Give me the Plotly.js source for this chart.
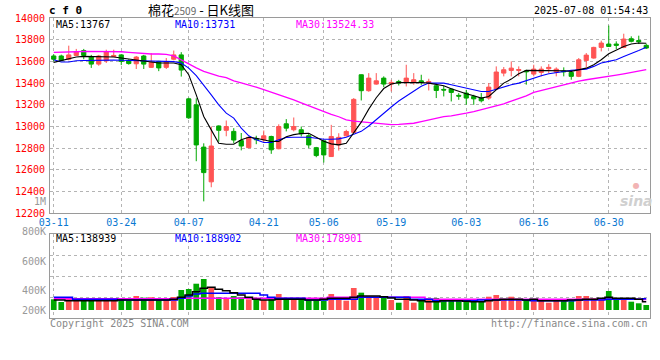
<!DOCTYPE html>
<html>
<head>
<meta charset="utf-8">
<script src="https://cdn.plot.ly/plotly-3.0.1.min.js"></script>
<style>html,body{margin:0;padding:0;background:#fff;}#chart{width:660px;height:360px;}</style>
</head>
<body>
<div id="chart"></div>
<script>
const dates = ["03-11","03-12","03-13","03-14","03-17","03-18","03-19","03-20","03-21","03-24",
"03-25","03-26","03-27","03-28","03-31","04-01","04-02","04-03","04-07","04-08",
"04-09","04-10","04-11","04-14","04-15","04-16","04-17","04-18","04-21","04-22",
"04-23","04-24","04-25","04-28","04-29","04-30","05-06","05-07","05-08","05-09",
"05-12","05-13","05-14","05-15","05-16","05-19","05-20","05-21","05-22","05-23",
"05-26","05-27","05-28","05-29","05-30","06-03","06-04","06-05","06-06","06-09",
"06-10","06-11","06-12","06-13","06-16","06-17","06-18","06-19","06-20","06-23",
"06-24","06-25","06-26","06-27","06-30","07-01","07-02","07-03","07-04","07-07"];

const tickDates = ["03-11","03-24","04-07","04-21","05-06","05-19","06-03","06-16","06-30"];

const openP = [13650,13650,13620,13655,13700,13645,13575,13605,13645,13660,
13605,13578,13650,13545,13600,13545,13620,13660,13255,13200,
12810,12490,13005,12965,12955,12870,12805,12890,12877,12908,
12795,13025,12970,12970,12915,12805,12868,12723,12830,12914,
12945,13477,13330,13391,13446,13391,13415,13406,13409,13421,
13400,13375,13342,13345,13287,13308,13277,13262,13262,13345,
13492,13517,13517,13512,13483,13498,13532,13502,13512,13498,
13462,13609,13631,13729,13760,13760,13729,13809,13792,13748];

const highP = [13665,13662,13745,13715,13715,13660,13660,13708,13708,13665,
13620,13650,13660,13675,13605,13631,13700,13685,13265,13260,
12845,13000,13010,13055,12985,12940,12905,12915,12963,12915,
13020,13068,13083,13000,12940,12812,12872,13015,12938,12970,
13262,13480,13492,13492,13462,13430,13430,13569,13492,13477,
13440,13385,13375,13352,13308,13338,13292,13308,13400,13554,
13548,13600,13554,13523,13569,13554,13575,13545,13545,13510,
13631,13677,13735,13791,13930,13785,13855,13831,13837,13763];

const lowP = [13600,13600,13610,13650,13620,13540,13560,13585,13640,13566,
13570,13530,13530,13540,13510,13530,13610,13460,13070,12680,
12310,12440,12860,12910,12845,12780,12800,12837,12850,12748,
12790,12955,12955,12908,12800,12717,12668,12720,12778,12908,
12940,13240,13320,13385,13363,13323,13378,13369,13385,13384,
13332,13262,13277,13231,13246,13200,13200,13222,13246,13340,
13462,13462,13462,13385,13462,13462,13492,13462,13462,13431,
13455,13545,13625,13692,13735,13714,13722,13775,13760,13714];

const closeP = [13620,13610,13660,13690,13655,13575,13650,13690,13655,13600,
13580,13640,13575,13590,13540,13595,13660,13520,13080,12830,
12575,12820,12965,13000,12875,12820,12900,12878,12914,12785,
13000,12985,13000,12932,12830,12732,12738,12908,12900,12954,
13250,13330,13446,13421,13391,13406,13400,13446,13431,13406,
13415,13332,13336,13314,13280,13262,13255,13237,13363,13502,
13523,13538,13525,13505,13529,13529,13545,13529,13505,13462,
13615,13658,13729,13769,13738,13748,13806,13785,13782,13723];

const ma5 = [13591,13606,13621,13640,13646,13646,13646,13646,13640,13631,
13621,13615,13603,13594,13585,13585,13585,13569,13477,13292,
13092,12969,12846,12837,12837,12877,12901,12892,12877,12862,
12862,12905,12925,12935,12938,12900,12865,12840,12831,12846,
12940,13040,13160,13265,13350,13392,13404,13406,13406,13406,
13400,13391,13375,13348,13323,13301,13283,13262,13277,13338,
13400,13437,13486,13517,13517,13517,13517,13517,13514,13508,
13523,13538,13569,13615,13671,13708,13738,13760,13769,13767];

const ma10 = [13615,13594,13594,13606,13608,13610,13610,13612,13612,13610,
13608,13606,13604,13602,13600,13600,13598,13585,13538,13468,
13385,13292,13200,13123,13077,12985,12914,12877,12852,12852,
12877,12898,12901,12901,12901,12892,12883,12883,12886,12901,
12930,12955,13005,13065,13125,13180,13235,13280,13330,13370,
13400,13400,13400,13385,13369,13354,13332,13323,13323,13345,
13363,13385,13400,13425,13446,13468,13486,13498,13511,13517,
13523,13529,13554,13585,13600,13615,13646,13677,13701,13731];

const ma30 = [13683,13683,13686,13689,13692,13692,13692,13692,13692,13689,
13683,13677,13671,13668,13668,13665,13650,13612,13572,13540,
13508,13485,13465,13450,13420,13402,13385,13362,13340,13318,
13295,13270,13245,13218,13190,13165,13135,13112,13090,13062,
13049,13043,13037,13031,13025,13018,13020,13022,13030,13045,
13062,13080,13092,13098,13108,13123,13138,13154,13172,13191,
13209,13234,13258,13283,13314,13332,13351,13369,13388,13406,
13418,13431,13440,13452,13462,13474,13486,13498,13511,13524.33];

const volume = [180000,135000,214000,157000,180000,197000,180000,180000,157000,197000,
157000,236000,207000,214000,169000,169000,219000,337000,354000,443000,
522000,382000,214000,185000,236000,214000,180000,180000,169000,180000,
270000,180000,180000,180000,169000,157000,162000,270000,169000,157000,
371000,292000,214000,214000,224000,169000,123000,236000,123000,180000,
197000,202000,169000,180000,169000,157000,140000,140000,224000,253000,
169000,224000,169000,180000,169000,169000,123000,157000,157000,180000,
236000,236000,197000,197000,320000,180000,180000,140000,113000,84000];

const volMa5 = [168000,168000,157000,157000,157000,157000,157000,157000,157000,168000,
168000,168000,168000,168000,168000,168000,180000,213000,253000,309000,
365000,382000,348000,326000,292000,253000,213000,180000,168000,168000,
180000,180000,180000,180000,168000,168000,180000,197000,197000,197000,
213000,236000,236000,236000,225000,202000,180000,180000,168000,157000,
140000,140000,157000,157000,157000,146000,140000,140000,157000,168000,
180000,180000,180000,168000,180000,157000,157000,157000,157000,168000,
168000,180000,180000,197000,213000,197000,197000,197000,180000,138939];

const volMa10 = [213000,213000,213000,180000,180000,180000,180000,180000,180000,168000,
168000,168000,168000,168000,168000,168000,168000,196000,236000,270000,
281000,281000,281000,281000,281000,281000,281000,281000,253000,213000,
196000,196000,196000,196000,168000,168000,168000,180000,180000,180000,
180000,213000,213000,213000,213000,213000,213000,213000,180000,180000,
180000,157000,157000,157000,157000,157000,157000,168000,168000,168000,
168000,168000,168000,168000,157000,157000,157000,157000,157000,157000,
168000,168000,168000,168000,180000,180000,180000,180000,180000,188902];

const volMa30 = [190000,190000,190000,190000,190000,190000,190000,190000,190000,190000,
190000,190000,190000,190000,190000,190000,190000,196000,196000,196000,
196000,196000,196000,196000,196000,196000,196000,196000,196000,196000,
196000,196000,196000,196000,196000,196000,196000,213000,213000,213000,
213000,213000,213000,213000,213000,213000,213000,213000,213000,213000,
180000,180000,180000,180000,180000,180000,180000,180000,180000,180000,
180000,180000,180000,180000,180000,180000,180000,180000,180000,180000,
180000,180000,180000,180000,180000,180000,180000,180000,180000,178901];

const RED = '#ff5454', GREEN = '#00a800';
const MONO = 'DejaVu Sans Mono, Liberation Mono, monospace';
const barColors = closeP.map((c, i) => c >= openP[i] ? RED : GREEN);

const traces = [
  {type:'candlestick', x:dates, open:openP, high:highP, low:lowP, close:closeP,
   xaxis:'x', yaxis:'y', whiskerwidth:0,
   increasing:{line:{color:RED, width:1}, fillcolor:RED},
   decreasing:{line:{color:GREEN, width:1}, fillcolor:GREEN},
   hoverinfo:'skip'},
  {type:'scatter', mode:'lines', x:dates, y:ma30, xaxis:'x', yaxis:'y', line:{color:'#ff00ff', width:1.3}, hoverinfo:'skip'},
  {type:'scatter', mode:'lines', x:dates, y:ma10, xaxis:'x', yaxis:'y', line:{color:'#0000ff', width:1.1}, hoverinfo:'skip'},
  {type:'scatter', mode:'lines', x:dates, y:ma5, xaxis:'x', yaxis:'y', line:{color:'#000000', width:1.1}, hoverinfo:'skip'},
  {type:'bar', x:dates, y:volume, xaxis:'x2', yaxis:'y2', marker:{color:barColors, line:{width:0}}, hoverinfo:'skip'},
  {type:'scatter', mode:'lines', x:dates, y:volMa30, xaxis:'x2', yaxis:'y2', line:{color:'#ff00ff', width:1.5, shape:'hvh'}, hoverinfo:'skip'},
  {type:'scatter', mode:'lines', x:dates, y:volMa10, xaxis:'x2', yaxis:'y2', line:{color:'#0000ff', width:1.5, shape:'hvh'}, hoverinfo:'skip'},
  {type:'scatter', mode:'lines', x:dates, y:volMa5, xaxis:'x2', yaxis:'y2', line:{color:'#000000', width:1.5, shape:'hvh'}, hoverinfo:'skip'}
];

const GRID = '#b4b4b4', FRAME = '#9a9a9a';
const volLow = -134800, volHigh = 1275545;

function ann(text, px, py, color, opts) {
  return Object.assign({
    text: text, xref:'paper', yref:'paper',
    x: (px - 50) / 600, y: (318 - py) / 300,
    xanchor:'left', yanchor:'middle', showarrow:false, borderpad:0,
    font:{family:MONO, size:10, color:color}
  }, opts || {});
}

const annotations = [
  ann('c f 0', 48, 11, '#000', {font:{family:MONO, size:11, color:'#000', weight:'bold'}}),
  ann('棉花<span style="font-size:10px;color:#666">2509</span> - 日K线图', 201, 9.5, '#000',
      {xanchor:'center', font:{family:'Noto Sans CJK SC, sans-serif', size:13, color:'#000'}}),
  ann('2025-07-08 01:54:43', 649, 11, '#000', {xanchor:'right'}),
  ann('MA5:13767', 55, 25, '#000'),
  ann('MA10:13731', 174, 25, '#0000ff'),
  ann('MA30:13524.33', 295, 25, '#ff00ff'),
  ann('MA5:138939', 55, 238, '#000'),
  ann('MA10:188902', 174, 238, '#0000ff'),
  ann('MA30:178901', 295, 238, '#ff00ff'),
  ann('1M', 47, 201, '#999', {xanchor:'right'}),
  ann('800K', 47, 231, '#999', {xanchor:'right'}),
  ann('600K', 47, 261, '#999', {xanchor:'right'}),
  ann('400K', 47, 290, '#999', {xanchor:'right'}),
  ann('200K', 47, 310, '#999', {xanchor:'right'}),
  ann('Copyright 2025 SINA.COM', 49, 323.5, '#888'),
  ann('http://finance.sina.com.cn', 649, 323.5, '#888', {xanchor:'right'}),
  ann('<span style="color:#f2b4b4;font-size:8px">●</span><br>sina', 636, 195, '#d0d0d0',
      {xanchor:'center', font:{family:'DejaVu Sans, sans-serif', size:14, color:'#d0d0d0', weight:'bold', style:'italic'}})
];

const layout = {
  width:660, height:360,
  margin:{l:50, r:10, t:18, b:42, pad:0},
  paper_bgcolor:'#fff', plot_bgcolor:'#fff',
  showlegend:false,
  boxgap:0.2, bargap:0.24,
  xaxis:{type:'category', anchor:'y', domain:[0,1], range:[-0.5,79.5],
    tickmode:'array', tickvals:tickDates, ticktext:tickDates, ticks:'',
    showgrid:true, gridcolor:GRID, griddash:'dot', gridwidth:1,
    showline:true, mirror:true, linecolor:FRAME, linewidth:1,
    tickfont:{family:MONO, size:10, color:'#0a78d2'},
    rangeslider:{visible:false}, fixedrange:true},
  yaxis:{anchor:'x', domain:[0.349,1], range:[12200,14000], tick0:12200, dtick:200,
    tickformat:'d', ticks:'', showgrid:true, gridcolor:GRID, griddash:'dot', gridwidth:1,
    zeroline:false, showline:true, mirror:true, linecolor:FRAME, linewidth:1,
    tickfont:{family:MONO, size:10, color:'#ff0000'}, ticklabelstandoff:2, fixedrange:true},
  xaxis2:{type:'category', anchor:'y2', domain:[0,1], range:[-0.5,79.5],
    tickmode:'array', tickvals:tickDates, showticklabels:false, ticks:'',
    showgrid:true, gridcolor:GRID, griddash:'dot', gridwidth:1,
    showline:true, mirror:true, linecolor:FRAME, linewidth:1, fixedrange:true},
  yaxis2:{anchor:'x2', domain:[0,0.279], range:[volLow, volHigh],
    tick0:volLow, dtick:(volHigh - volLow) / 4, showticklabels:false, ticks:'',
    showgrid:true, gridcolor:GRID, griddash:'dot', gridwidth:1,
    zeroline:false, showline:true, mirror:true, linecolor:FRAME, linewidth:1, fixedrange:true},
  annotations: annotations
};

Plotly.newPlot('chart', traces, layout, {staticPlot:true, displayModeBar:false});
</script>
</body>
</html>
